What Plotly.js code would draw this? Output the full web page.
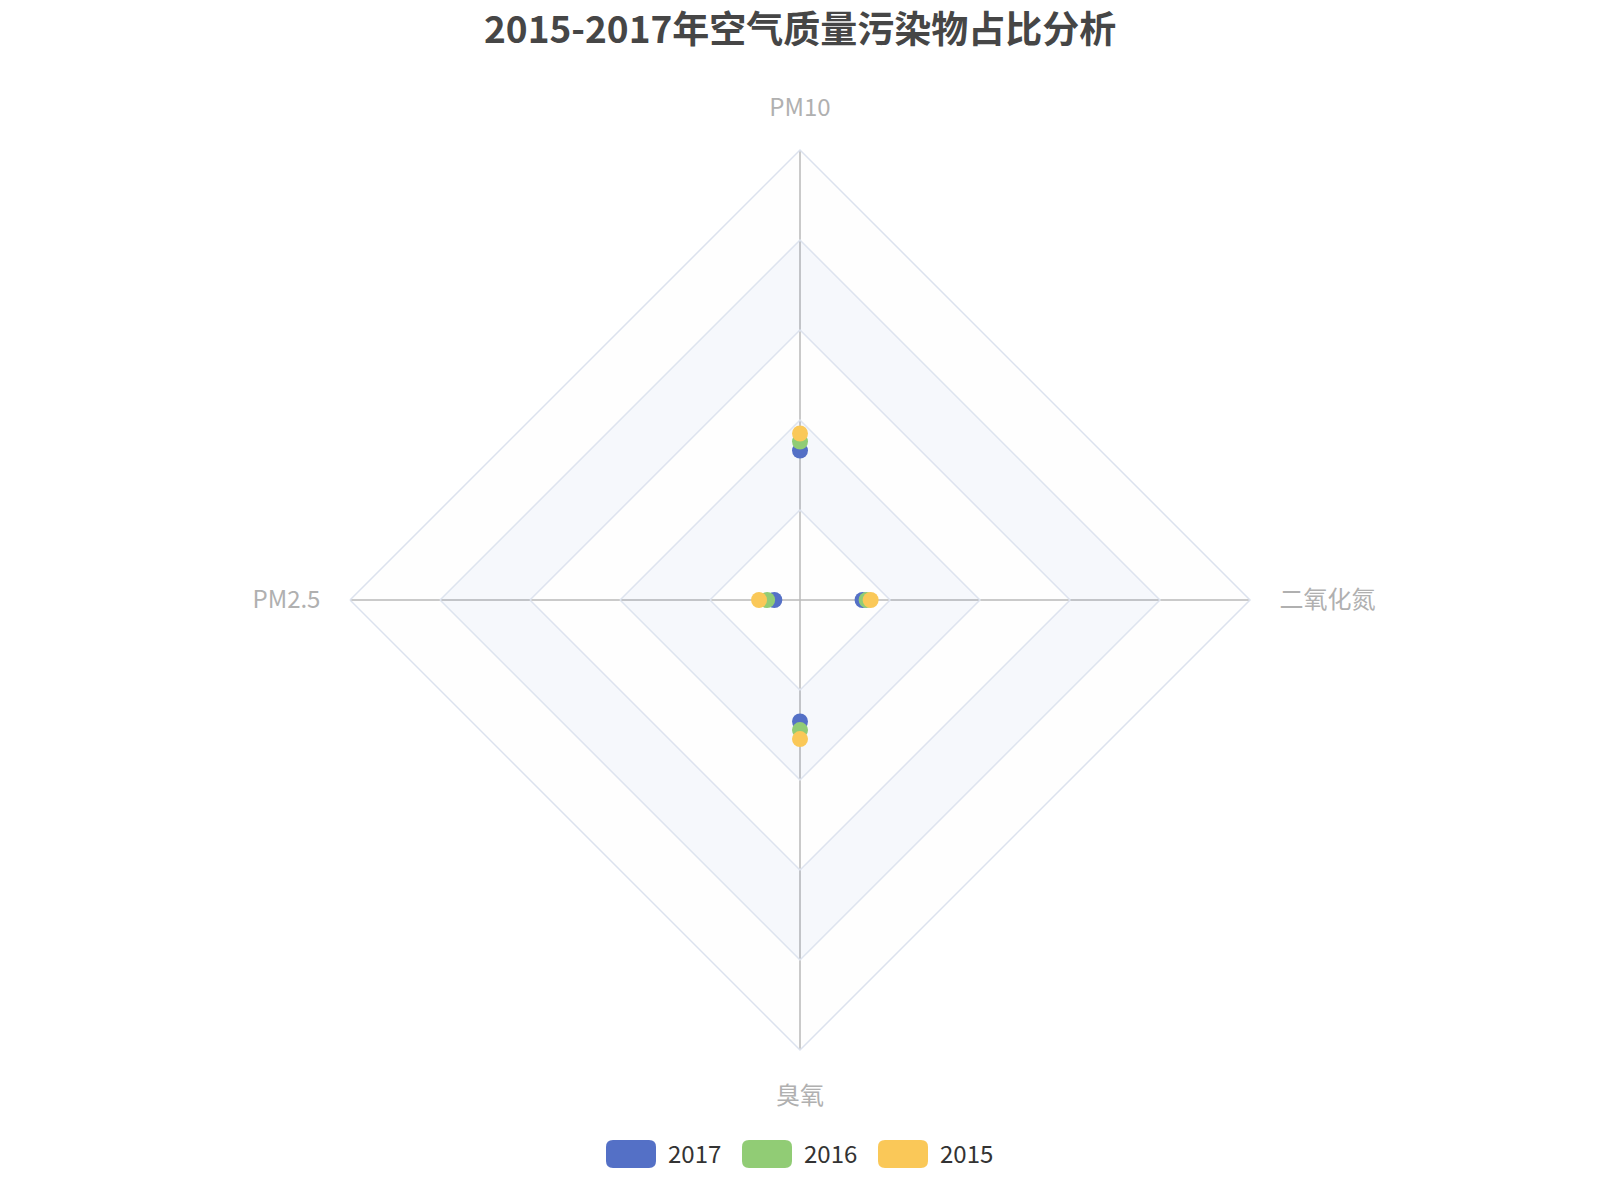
<!DOCTYPE html>
<html>
<head>
<meta charset="utf-8">
<script src="https://cdn.plot.ly/plotly-3.0.1.min.js"></script>
<style>
  html, body { margin: 0; padding: 0; background: #fff; }
  #chart { width: 1600px; height: 1200px; }
</style>
</head>
<body>
<div id="chart"></div>
<script>
// indicators, clockwise from the top
const indicators = ['PM10', '二氧化氮', '臭氧', 'PM2.5'];
const years = ['2017', '2016', '2015'];
const colors = ['#5470c6', '#91cc75', '#fac858'];

// share of each pollutant (axis max = 1)
const v2017 = [0.332, 0.139, 0.270, 0.057];
const v2016 = [0.352, 0.148, 0.289, 0.073];
const v2015 = [0.370, 0.157, 0.309, 0.091];
const seriesValues = [v2017, v2016, v2015];

// radial split levels
const radialTicks = [0, 0.2, 0.4, 0.6, 0.8, 1.0];
const bandColors = ['rgba(250,250,250,0.2)', 'rgba(210,219,238,0.2)'];

const font = '"Noto Sans CJK SC", "Noto Sans", sans-serif';
const closed = arr => arr.concat([arr[0]]);

// split area rings: outer polygon clockwise, inner polygon back the other way
const bands = [];
for (let i = 1; i < radialTicks.length; i++) {
    const outer = radialTicks[i], inner = radialTicks[i - 1];
    const thOuter = closed(indicators);
    const thInner = closed(indicators.slice().reverse());
    bands.push({
        type: 'scatterpolar',
        r: thOuter.map(() => outer).concat(thInner.map(() => inner)),
        theta: thOuter.concat(thInner),
        mode: 'lines',
        fill: 'toself',
        fillcolor: bandColors[(i - 1) % 2],
        line: { width: 0, color: 'rgba(0,0,0,0)' },
        hoverinfo: 'skip',
        showlegend: false
    });
}

const series = years.map((y, i) => ({
    type: 'scatterpolar',
    name: y,
    r: seriesValues[i],
    theta: indicators,
    mode: 'markers',
    marker: { size: 16, color: colors[i] },
    showlegend: false
}));

// custom legend (rounded swatches + labels)
const legendX = [606, 742, 878];   // px, left edge of each swatch
const legendY = 1154;              // px, vertical centre
const W = 1600, H = 1200;
const sw = 50, sh = 28, rr = 7;
const roundRect = `M ${-sw/2 + rr},${-sh/2} L ${sw/2 - rr},${-sh/2} Q ${sw/2},${-sh/2} ${sw/2},${-sh/2 + rr} ` +
    `L ${sw/2},${sh/2 - rr} Q ${sw/2},${sh/2} ${sw/2 - rr},${sh/2} L ${-sw/2 + rr},${sh/2} ` +
    `Q ${-sw/2},${sh/2} ${-sw/2},${sh/2 - rr} L ${-sw/2},${-sh/2 + rr} Q ${-sw/2},${-sh/2} ${-sw/2 + rr},${-sh/2} Z`;

const shapes = years.map((y, i) => ({
    type: 'path',
    xref: 'paper', yref: 'paper',
    xsizemode: 'pixel', ysizemode: 'pixel',
    xanchor: (legendX[i] + sw / 2) / W,
    yanchor: 1 - legendY / H,
    path: roundRect,
    fillcolor: colors[i],
    line: { width: 0 }
}));

const annotations = years.map((y, i) => ({
    xref: 'paper', yref: 'paper',
    x: (legendX[i] + sw + 10) / W, y: 1 - (legendY - 2) / H,
    xanchor: 'left', yanchor: 'middle',
    text: y, showarrow: false,
    font: { family: font, size: 24, color: '#333' }
}));

// chart title
annotations.push({
    xref: 'paper', yref: 'paper',
    x: 0.5, y: 1 - 27 / H,
    xanchor: 'center', yanchor: 'middle',
    text: '<b>2015-2017年空气质量污染物占比分析</b>',
    showarrow: false,
    font: { family: font, size: 37, color: '#464646' }
});

const layout = {
    width: W, height: H,
    paper_bgcolor: '#fff',
    margin: { t: 0, b: 0, l: 0, r: 0 },
    showlegend: false,
    polar: {
        domain: { x: [350 / W, 1250 / W], y: [1 - 1050 / H, 1 - 150 / H] },
        bgcolor: 'rgba(0,0,0,0)',
        gridshape: 'linear',
        radialaxis: {
            range: [0, 1],
            tickvals: radialTicks.slice(1, -1),
            showticklabels: false,
            ticks: '',
            showline: false,
            gridcolor: '#dce2ee',
            gridwidth: 1.5
        },
        angularaxis: {
            type: 'category',
            categoryarray: indicators,
            rotation: 90,
            direction: 'clockwise',
            showline: true,
            linecolor: '#dce2ee',
            linewidth: 1.5,
            gridcolor: '#aaaaaa',
            gridwidth: 1.5,
            ticks: 'outside',
            ticklen: 24,
            tickcolor: 'rgba(0,0,0,0)',
            tickfont: { family: font, size: 24, color: '#b0b0b0' }
        }
    },
    shapes: shapes,
    annotations: annotations
};

Plotly.newPlot('chart', bands.concat(series), layout, { displayModeBar: false, staticPlot: true });
</script>
</body>
</html>
